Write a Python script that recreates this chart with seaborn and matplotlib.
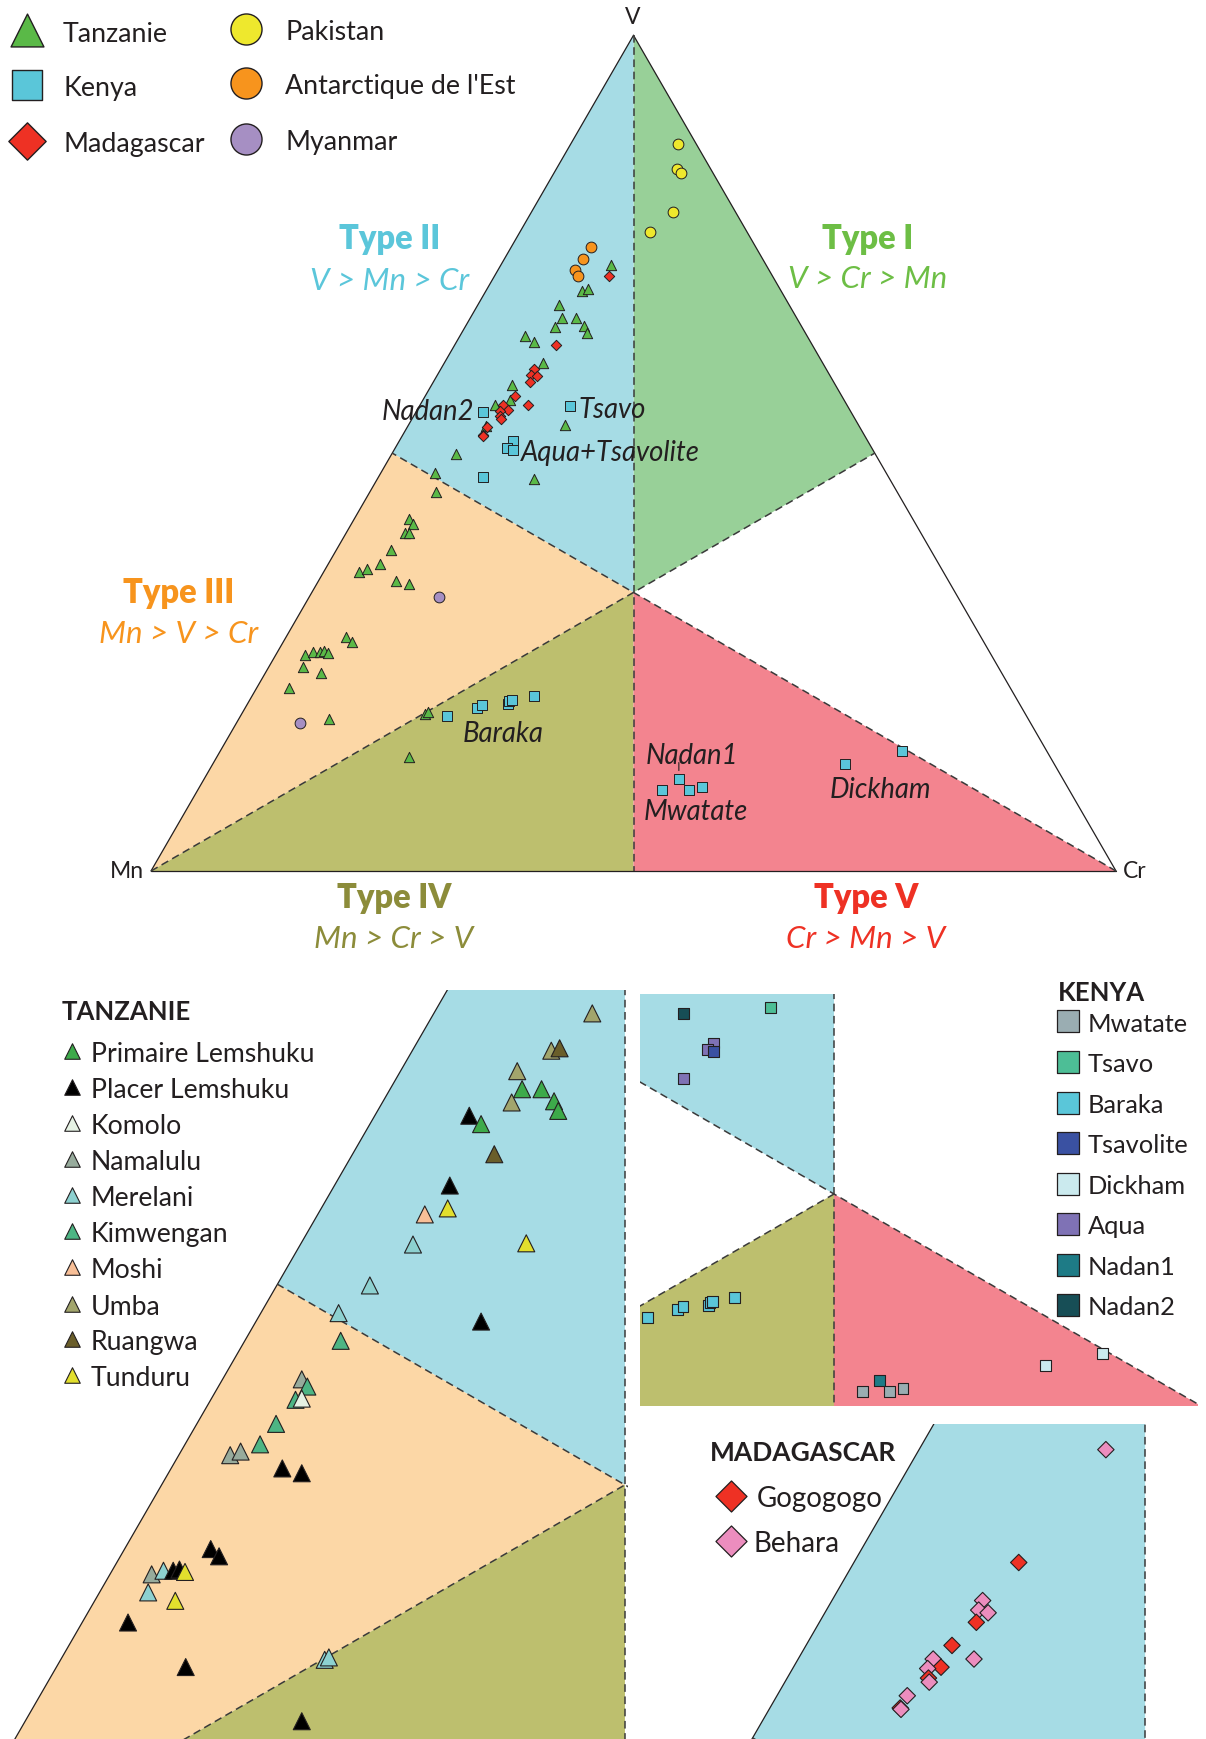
import numpy as np
import pandas as pd
import matplotlib
matplotlib.use("Agg")
import matplotlib.pyplot as plt
import seaborn as sns
from matplotlib.patches import Polygon

sns.set_theme(style="white")
plt.rcParams['font.family'] = ['Lato', 'DejaVu Sans']

# ---------------- data (V %, Cr %, Mn = rest) ----------------
tz_loc = ['Umba', 'Umba', 'Ruangwa', 'Umba', 'Primaire Lemshuku', 'Primaire Lemshuku', 'Umba',
          'Primaire Lemshuku', 'Primaire Lemshuku', 'Placer Lemshuku', 'Primaire Lemshuku', 'Ruangwa',
          'Placer Lemshuku', 'Moshi', 'Tunduru', 'Tunduru', 'Merelani', 'Merelani', 'Placer Lemshuku',
          'Merelani', 'Kimwengan', 'Namalulu', 'Kimwengan', 'Kimwengan', 'Komolo', 'Kimwengan',
          'Kimwengan', 'Namalulu', 'Namalulu', 'Placer Lemshuku', 'Placer Lemshuku', 'Placer Lemshuku',
          'Placer Lemshuku', 'Namalulu', 'Merelani', 'Placer Lemshuku', 'Placer Lemshuku', 'Tunduru',
          'Merelani', 'Tunduru', 'Placer Lemshuku', 'Placer Lemshuku', 'Merelani', 'Merelani',
          'Placer Lemshuku']
tz_V = [72.5, 69.4, 69.6, 67.7, 66.2, 66.2, 65.1, 65.2, 64.4, 64.0, 63.3, 60.8, 58.2, 55.8, 56.3,
        53.4, 53.3, 49.9, 46.9, 47.6, 45.3, 42.1, 41.5, 40.4, 40.5, 38.4, 36.7, 35.8, 36.1, 34.7,
        34.3, 28.0, 27.4, 25.9, 26.2, 26.2, 26.3, 26.1, 24.4, 23.7, 21.9, 18.2, 18.8, 19.0, 13.7]
tz_Cr = [11.4, 10.0, 10.5, 8.4, 9.5, 10.9, 9.3, 12.3, 13.0, 6.8, 8.0, 10.2, 8.3, 7.7, 9.1,
         16.2, 8.1, 6.7, 16.2, 5.6, 6.9, 5.7, 6.4, 6.1, 6.5, 5.7, 5.4, 3.7, 4.3, 8.0,
         9.6, 6.2, 7.1, 3.0, 3.7, 4.4, 4.8, 5.3, 3.5, 5.8, 3.3, 9.3, 19.0, 19.2, 19.9]

ke_loc = ['Nadan2', 'Tsavo', 'Aqua', 'Aqua', 'Tsavolite', 'Aqua', 'Baraka', 'Baraka', 'Baraka',
          'Baraka', 'Baraka', 'Baraka', 'Baraka', 'Nadan1', 'Mwatate', 'Mwatate', 'Mwatate',
          'Dickham', 'Dickham']
ke_V = [54.9, 55.7, 51.4, 50.6, 50.4, 47.2, 18.6, 19.5, 19.9, 20.0, 20.3, 20.5, 20.9,
        11.0, 9.7, 9.7, 10.1, 12.8, 14.3]
ke_Cr = [7.0, 15.6, 11.8, 11.6, 12.3, 10.8, 21.4, 24.0, 24.4, 27.0, 27.0, 27.2, 29.2,
         49.2, 48.1, 50.9, 52.1, 65.5, 70.7]

mg_loc = ['Behara', 'Gogogogo', 'Behara', 'Behara', 'Behara', 'Gogogogo', 'Gogogogo', 'Behara',
          'Behara', 'Gogogogo', 'Behara', 'Gogogogo', 'Behara', 'Behara', 'Gogogogo', 'Behara']
mg_V = [71.2, 62.9, 60.1, 59.4, 59.2, 58.5, 56.8, 55.8, 55.8, 55.2, 55.1, 54.4, 54.1, 53.1, 52.2, 52.1]
mg_Cr = [11.9, 10.5, 9.6, 9.7, 10.4, 10.0, 9.3, 11.2, 8.6, 9.4, 8.6, 9.0, 9.2, 8.3, 8.3, 8.4]

pk_V = [87.0, 84.0, 83.5, 78.9, 76.5]
pk_Cr = [11.1, 12.5, 13.2, 14.6, 13.5]
an_V = [74.7, 73.2, 71.9, 71.2]
an_Cr = [8.2, 8.2, 8.0, 8.6]
my_V = [32.8, 17.7]
my_Cr = [13.4, 6.6]

tz_names = ['Primaire Lemshuku', 'Placer Lemshuku', 'Komolo', 'Namalulu', 'Merelani',
            'Kimwengan', 'Moshi', 'Umba', 'Ruangwa', 'Tunduru']
ke_names = ['Mwatate', 'Tsavo', 'Baraka', 'Tsavolite', 'Dickham', 'Aqua', 'Nadan1', 'Nadan2']
mg_names = ['Gogogogo', 'Behara']

# ---------------- styles ----------------
DARK = '#231F20'
pal_tz = {'Primaire Lemshuku': '#3DAA4A', 'Placer Lemshuku': '#000000', 'Komolo': '#E6F2E4',
          'Namalulu': '#97AB9C', 'Merelani': '#8DD1D0', 'Kimwengan': '#4DB584', 'Moshi': '#F8BF97',
          'Umba': '#A2A56C', 'Ruangwa': '#6A5E2A', 'Tunduru': '#E2DF2D'}
pal_ke = {'Mwatate': '#9AADB2', 'Tsavo': '#4DBE96', 'Baraka': '#5AC6D9', 'Tsavolite': '#3A51A2',
          'Dickham': '#CBEAEE', 'Aqua': '#7F72B5', 'Nadan1': '#1E7B86', 'Nadan2': '#174E56'}
pal_mg = {'Gogogogo': '#EE3124', 'Behara': '#EC8DBE'}
main_col = {'Tanzanie': '#5AB947', 'Kenya': '#5AC6D9', 'Madagascar': '#EE3124',
            'Pakistan': '#EEE82D', 'Antarctique': '#F7941D', 'Myanmar': '#A68FC3'}
fillc = {'I': '#98D098', 'II': '#A6DCE5', 'III': '#FCD7A6', 'IV': '#BDBF6E', 'V': '#F3848F'}

h = np.sqrt(3) / 2


def tern(v, cr):
    v = np.asarray(v, float) / 100
    cr = np.asarray(cr, float) / 100
    return cr + v / 2, v * h


def frame(V, Cr, loc=None):
    x, y = tern(V, Cr)
    d = pd.DataFrame({'x': x, 'y': y})
    if loc is not None:
        d['loc'] = loc
    return d


df_tz = frame(tz_V, tz_Cr, tz_loc)
df_ke = frame(ke_V, ke_Cr, ke_loc)
df_mg = frame(mg_V, mg_Cr, mg_loc)
df_pk = frame(pk_V, pk_Cr)
df_an = frame(an_V, an_Cr)
df_my = frame(my_V, my_Cr)

PV = (0.5, h); PMN = (0.0, 0.0); PCR = (1.0, 0.0); G = (0.5, h / 3)
mVMn = (0.25, h / 2); mVCr = (0.75, h / 2); mMnCr = (0.5, 0.0)
regions = {'I': [PV, mVCr, G], 'II': [PV, G, mVMn], 'III': [mVMn, G, PMN],
           'IV': [PMN, G, mMnCr], 'V': [mMnCr, G, PCR]}

W, H = 1206, 1740
fig = plt.figure(figsize=(W / 100, H / 100), dpi=100)
SCALE_MAIN = 965.0


def add_ax(px0, py0, px1, py1, xlim, ylim):
    ax = fig.add_axes([px0 / W, 1 - py1 / H, (px1 - px0) / W, (py1 - py0) / H])
    ax.set_axis_off()
    return ax, xlim, ylim


def draw_regions(ax, which):
    for k in which:
        ax.add_patch(Polygon(regions[k], closed=True, facecolor=fillc[k], edgecolor='none', zorder=0))


def dashed(ax, p, q, lw=1.1):
    ax.plot([p[0], q[0]], [p[1], q[1]], ls=(0, (5, 3)), color='#3A3A3A', lw=lw, zorder=1)


def solid(ax, p, q, lw=0.9):
    ax.plot([p[0], q[0]], [p[1], q[1]], ls='-', color=DARK, lw=lw, zorder=1)


def pts(ax, d, marker, s, color=None, hue=None, palette=None, lw=0.7, z=3):
    if hue:
        sns.scatterplot(data=d, x='x', y='y', hue=hue, palette=palette, marker=marker, s=s,
                        edgecolor=DARK, linewidth=lw, ax=ax, legend=False, zorder=z)
    else:
        sns.scatterplot(data=d, x='x', y='y', color=color, marker=marker, s=s,
                        edgecolor=DARK, linewidth=lw, ax=ax, legend=False, zorder=z)


# ---------------- main ternary ----------------
axM, xlM, ylM = add_ax(0, 0, W, 990, ((0 - 151) / SCALE_MAIN, (W - 151) / SCALE_MAIN),
                       ((872 - 990) / SCALE_MAIN, 872 / SCALE_MAIN))
draw_regions(axM, ['I', 'II', 'III', 'IV', 'V'])
for p, q in [(PMN, PCR), (PCR, PV), (PV, PMN)]:
    solid(axM, p, q, lw=0.9)
dashed(axM, PV, mMnCr)
dashed(axM, PMN, mVCr)
dashed(axM, PCR, mVMn)
pts(axM, df_tz, '^', 55, color=main_col['Tanzanie'])
pts(axM, df_ke, 's', 52, color=main_col['Kenya'])
pts(axM, df_mg, 'D', 28, color=main_col['Madagascar'])
pts(axM, df_pk, 'o', 60, color=main_col['Pakistan'])
pts(axM, df_an, 'o', 60, color=main_col['Antarctique'])
pts(axM, df_my, 'o', 60, color=main_col['Myanmar'])
n1 = df_ke[df_ke['loc'] == 'Nadan1'].iloc[0]
axM.annotate('', xy=(n1.x, n1.y + 0.006), xytext=(n1.x, n1.y + 0.02),
             arrowprops=dict(arrowstyle='-', lw=0.8, color=DARK), zorder=2)
axM.set_xlim(xlM); axM.set_ylim(ylM)

# ---------------- Tanzanie inset ----------------
S_T = 1390.0
axT, xlT, ylT = add_ax(0, 991, 628, H, (0.0504, 0.0504 + 628 / S_T), (0.6447 - (H - 991) / S_T, 0.6447))
draw_regions(axT, ['II', 'III', 'IV'])
solid(axT, PMN, PV, lw=0.9)
dashed(axT, PV, mMnCr)
dashed(axT, PCR, mVMn)
dashed(axT, PMN, G)
pts(axT, df_tz, '^', 150, hue='loc', palette=pal_tz, lw=0.8)
axT.set_xlim(xlT); axT.set_ylim(ylT)

# ---------------- Kenya inset ----------------
cx0, cy0 = 834, 1195
axK, xlK, ylK = add_ax(640, 995, 1198, 1407,
                       (0.5 + (640 - cx0) / SCALE_MAIN, 0.5 + (1198 - cx0) / SCALE_MAIN),
                       (h / 3 - (1407 - cy0) / SCALE_MAIN, h / 3 + (cy0 - 995) / SCALE_MAIN))
draw_regions(axK, ['II', 'IV', 'V'])
dashed(axK, PV, mMnCr)
dashed(axK, PCR, mVMn)
dashed(axK, PMN, G)
pts(axK, df_ke, 's', 62, hue='loc', palette=pal_ke, lw=0.8)
axK.set_xlim(xlK); axK.set_ylim(ylK)

# ---------------- Madagascar inset ----------------
S_M = 1570.0
axG, xlG, ylG = add_ax(680, 1424.6, 1152, H,
                       (0.5 - (1147 - 680) / S_M + 0.0012, 0.5 + 5 / S_M + 0.0012),
                       (0.6347 - (H - 1424.6) / S_M - 0.0015, 0.6347 - 0.0015))
draw_regions(axG, ['II'])
solid(axG, PMN, PV, lw=0.9)
dashed(axG, PV, mMnCr)
dashed(axG, PCR, mVMn)
pts(axG, df_mg, 'D', 70, hue='loc', palette=pal_mg, lw=0.8)
axG.set_xlim(xlG); axG.set_ylim(ylG)

# ---------------- overlay for labels & legends (pixel coords) ----------------
lax = fig.add_axes([0, 0, 1, 1])
lax.set_xlim(0, W); lax.set_ylim(H, 0)
lax.set_axis_off()
lax.patch.set_alpha(0)
lax.set_zorder(10)


def txt(s, x, y, fs, ha='left', color=DARK, weight='normal', style='normal'):
    lax.text(x, y, s, fontsize=fs, ha=ha, va='center_baseline', color=color,
             fontweight=weight, fontstyle=style)


def mk(x, y, marker, s, color, lw=1.0):
    lax.scatter([x], [y], marker=marker, s=s, c=color, edgecolors=DARK, linewidths=lw, zorder=5)


# top legend
mk(27, 31, '^', 560, main_col['Tanzanie'])
mk(27, 86, 's', 440, main_col['Kenya'])
mk(27, 142, 'D', 360, main_col['Madagascar'])
mk(246, 30, 'o', 500, main_col['Pakistan'])
mk(246, 84, 'o', 500, main_col['Antarctique'])
mk(246, 140, 'o', 500, main_col['Myanmar'])
for s, x, y in [('Tanzanie', 63, 32), ('Kenya', 63, 86), ('Madagascar', 63, 142),
                ('Pakistan', 285, 30), ("Antarctique de l'Est", 285, 84), ('Myanmar', 285, 140)]:
    txt(s, x, y, 19.3)

# type labels
types = [('Type II', 'V > Mn > Cr', 390, 236, 278, '#5BC6DA'),
         ('Type I', 'V > Cr > Mn', 868, 236, 277, '#6DBE45'),
         ('Type III', 'Mn > V > Cr', 179, 590, 632, '#F7941D'),
         ('Type IV', 'Mn > Cr > V', 394, 895, 937, '#8C8C3A'),
         ('Type V', 'Cr > Mn > V', 866, 895, 937, '#EE3124')]
for t, sub, x, y1, y2, c in types:
    txt(t, x, y1, 23.5, ha='center', color=c, weight='heavy')
    txt(sub, x, y2, 22.5, ha='center', color=c, style='italic')

# vertex labels
txt('V', 633, 16, 16.5, ha='center')
txt('Mn', 127, 870, 16.5, ha='center')
txt('Cr', 1135, 870, 16.5, ha='center')

# deposit annotations
for s, x, y, ha in [('Nadan2', 474, 409, 'right'), ('Tsavo', 578, 408, 'left'),
                    ('Aqua+Tsavolite', 521, 450, 'left'), ('Baraka', 463, 732, 'left'),
                    ('Nadan1', 646, 754, 'left'), ('Mwatate', 644, 810, 'left'),
                    ('Dickham', 830, 788, 'left')]:
    txt(s, x, y, 19.8, ha=ha, style='italic')

# Tanzanie legend
txt('TANZANIE', 62, 1010, 18.5, weight='bold')
ys_tz = [1052, 1088, 1124, 1160, 1196, 1232, 1268, 1305, 1340, 1376]
for name, y in zip(tz_names, ys_tz):
    mk(72, y, '^', 125, pal_tz[name], lw=0.8)
    txt(name, 91, y, 19.2)

# Kenya legend
txt('KENYA', 1058, 991, 18.5, weight='bold')
ys_ke = [1022, 1063, 1104, 1144, 1185, 1225, 1266, 1306]
for name, y in zip(ke_names, ys_ke):
    mk(1068, y, 's', 230, pal_ke[name], lw=0.9)
    txt(name, 1088, y, 18.3)

# Madagascar legend
txt('MADAGASCAR', 710, 1451, 19, weight='bold')
for name, y, x in zip(mg_names, [1497, 1542], [757, 754]):
    mk(731, y, 'D', 250, pal_mg[name], lw=0.9)
    txt(name, x, y, 20)

fig.savefig('out.png', dpi=100)
